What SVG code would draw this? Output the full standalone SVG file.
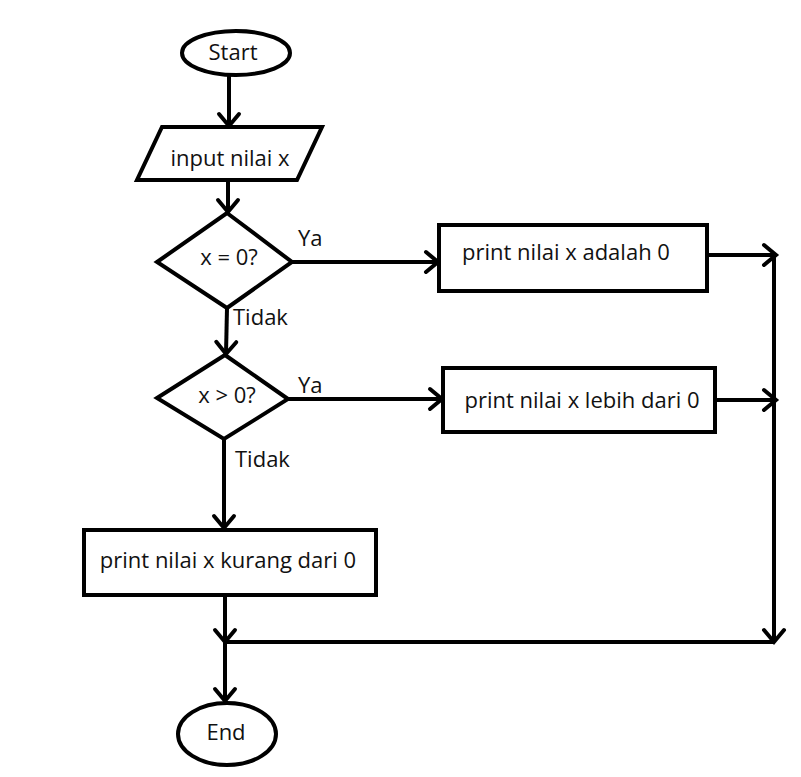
<svg xmlns="http://www.w3.org/2000/svg" width="801" height="777" viewBox="0 0 801 777">
<style>
.shape{fill:#fff;stroke:#000;stroke-width:4;stroke-linejoin:miter}
.t{font-family:"Open Sans","Noto Sans","Liberation Sans",sans-serif;font-size:22px;fill:#111}
.m{text-anchor:middle}
.conn{stroke:#000;stroke-width:4;fill:none}
</style>
<defs>
<marker id="arr" markerUnits="userSpaceOnUse" viewBox="-16 -14 20 28" refX="0" refY="0" markerWidth="20" markerHeight="28" orient="auto">
<path d="M-12,-10 L0,0 L-12,10" fill="none" stroke="#000" stroke-width="4" stroke-linecap="round"/>
</marker>
</defs>
<rect width="801" height="777" fill="#fff"/>
<g id="connectors">
<line class="conn" x1="229" y1="75" x2="229" y2="126" marker-end="url(#arr)"/>
<line class="conn" x1="228" y1="180" x2="228" y2="212" marker-end="url(#arr)"/>
<line class="conn" x1="292" y1="262" x2="438" y2="262" marker-end="url(#arr)"/>
<line class="conn" x1="227" y1="308" x2="226" y2="354" marker-end="url(#arr)"/>
<line class="conn" x1="288" y1="399" x2="442" y2="399" marker-end="url(#arr)"/>
<line class="conn" x1="224" y1="439" x2="224" y2="528" marker-end="url(#arr)"/>
<line class="conn" x1="707" y1="255" x2="776" y2="255" marker-end="url(#arr)"/>
<line class="conn" x1="715" y1="400" x2="776" y2="400" marker-end="url(#arr)"/>
<line class="conn" x1="774" y1="253" x2="774" y2="642" marker-end="url(#arr)"/>
<line class="conn" x1="225" y1="642" x2="774" y2="642"/>
<line class="conn" x1="225" y1="595" x2="225" y2="642" marker-end="url(#arr)"/>
<line class="conn" x1="225" y1="642" x2="225" y2="701" marker-end="url(#arr)"/>
<text class="t" x="298" y="246">Ya</text>
<text class="t" x="298" y="393">Ya</text>
<text class="t" x="233" y="325">Tidak</text>
<text class="t" x="235" y="467">Tidak</text>
</g>
<g id="start">
<ellipse class="shape" cx="236" cy="53" rx="54" ry="22"/>
<text class="t m" x="233" y="60">Start</text>
</g>
<g id="input">
<polygon class="shape" points="162,127 322,127 297,180 137,180"/>
<text class="t m" x="230" y="166">input nilai x</text>
</g>
<g id="dec1">
<polygon class="shape" points="227,213 292,262 227,308 157,262"/>
<text class="t m" x="229" y="265">x = 0?</text>
</g>
<g id="dec2">
<polygon class="shape" points="225,355 288,399 224,439 157,398"/>
<text class="t m" x="227" y="403">x &gt; 0?</text>
</g>
<g id="box1">
<rect class="shape" x="439" y="225" width="268" height="66"/>
<text class="t m" x="566" y="260">print nilai x adalah 0</text>
</g>
<g id="box2">
<rect class="shape" x="443" y="368" width="272" height="64"/>
<text class="t m" x="582" y="408">print nilai x lebih dari 0</text>
</g>
<g id="box3">
<rect class="shape" x="84" y="530" width="292" height="65"/>
<text class="t m" x="228" y="568">print nilai x kurang dari 0</text>
</g>
<g id="end">
<ellipse class="shape" cx="227" cy="734" rx="49" ry="31"/>
<text class="t m" x="226" y="740">End</text>
</g>
</svg>
